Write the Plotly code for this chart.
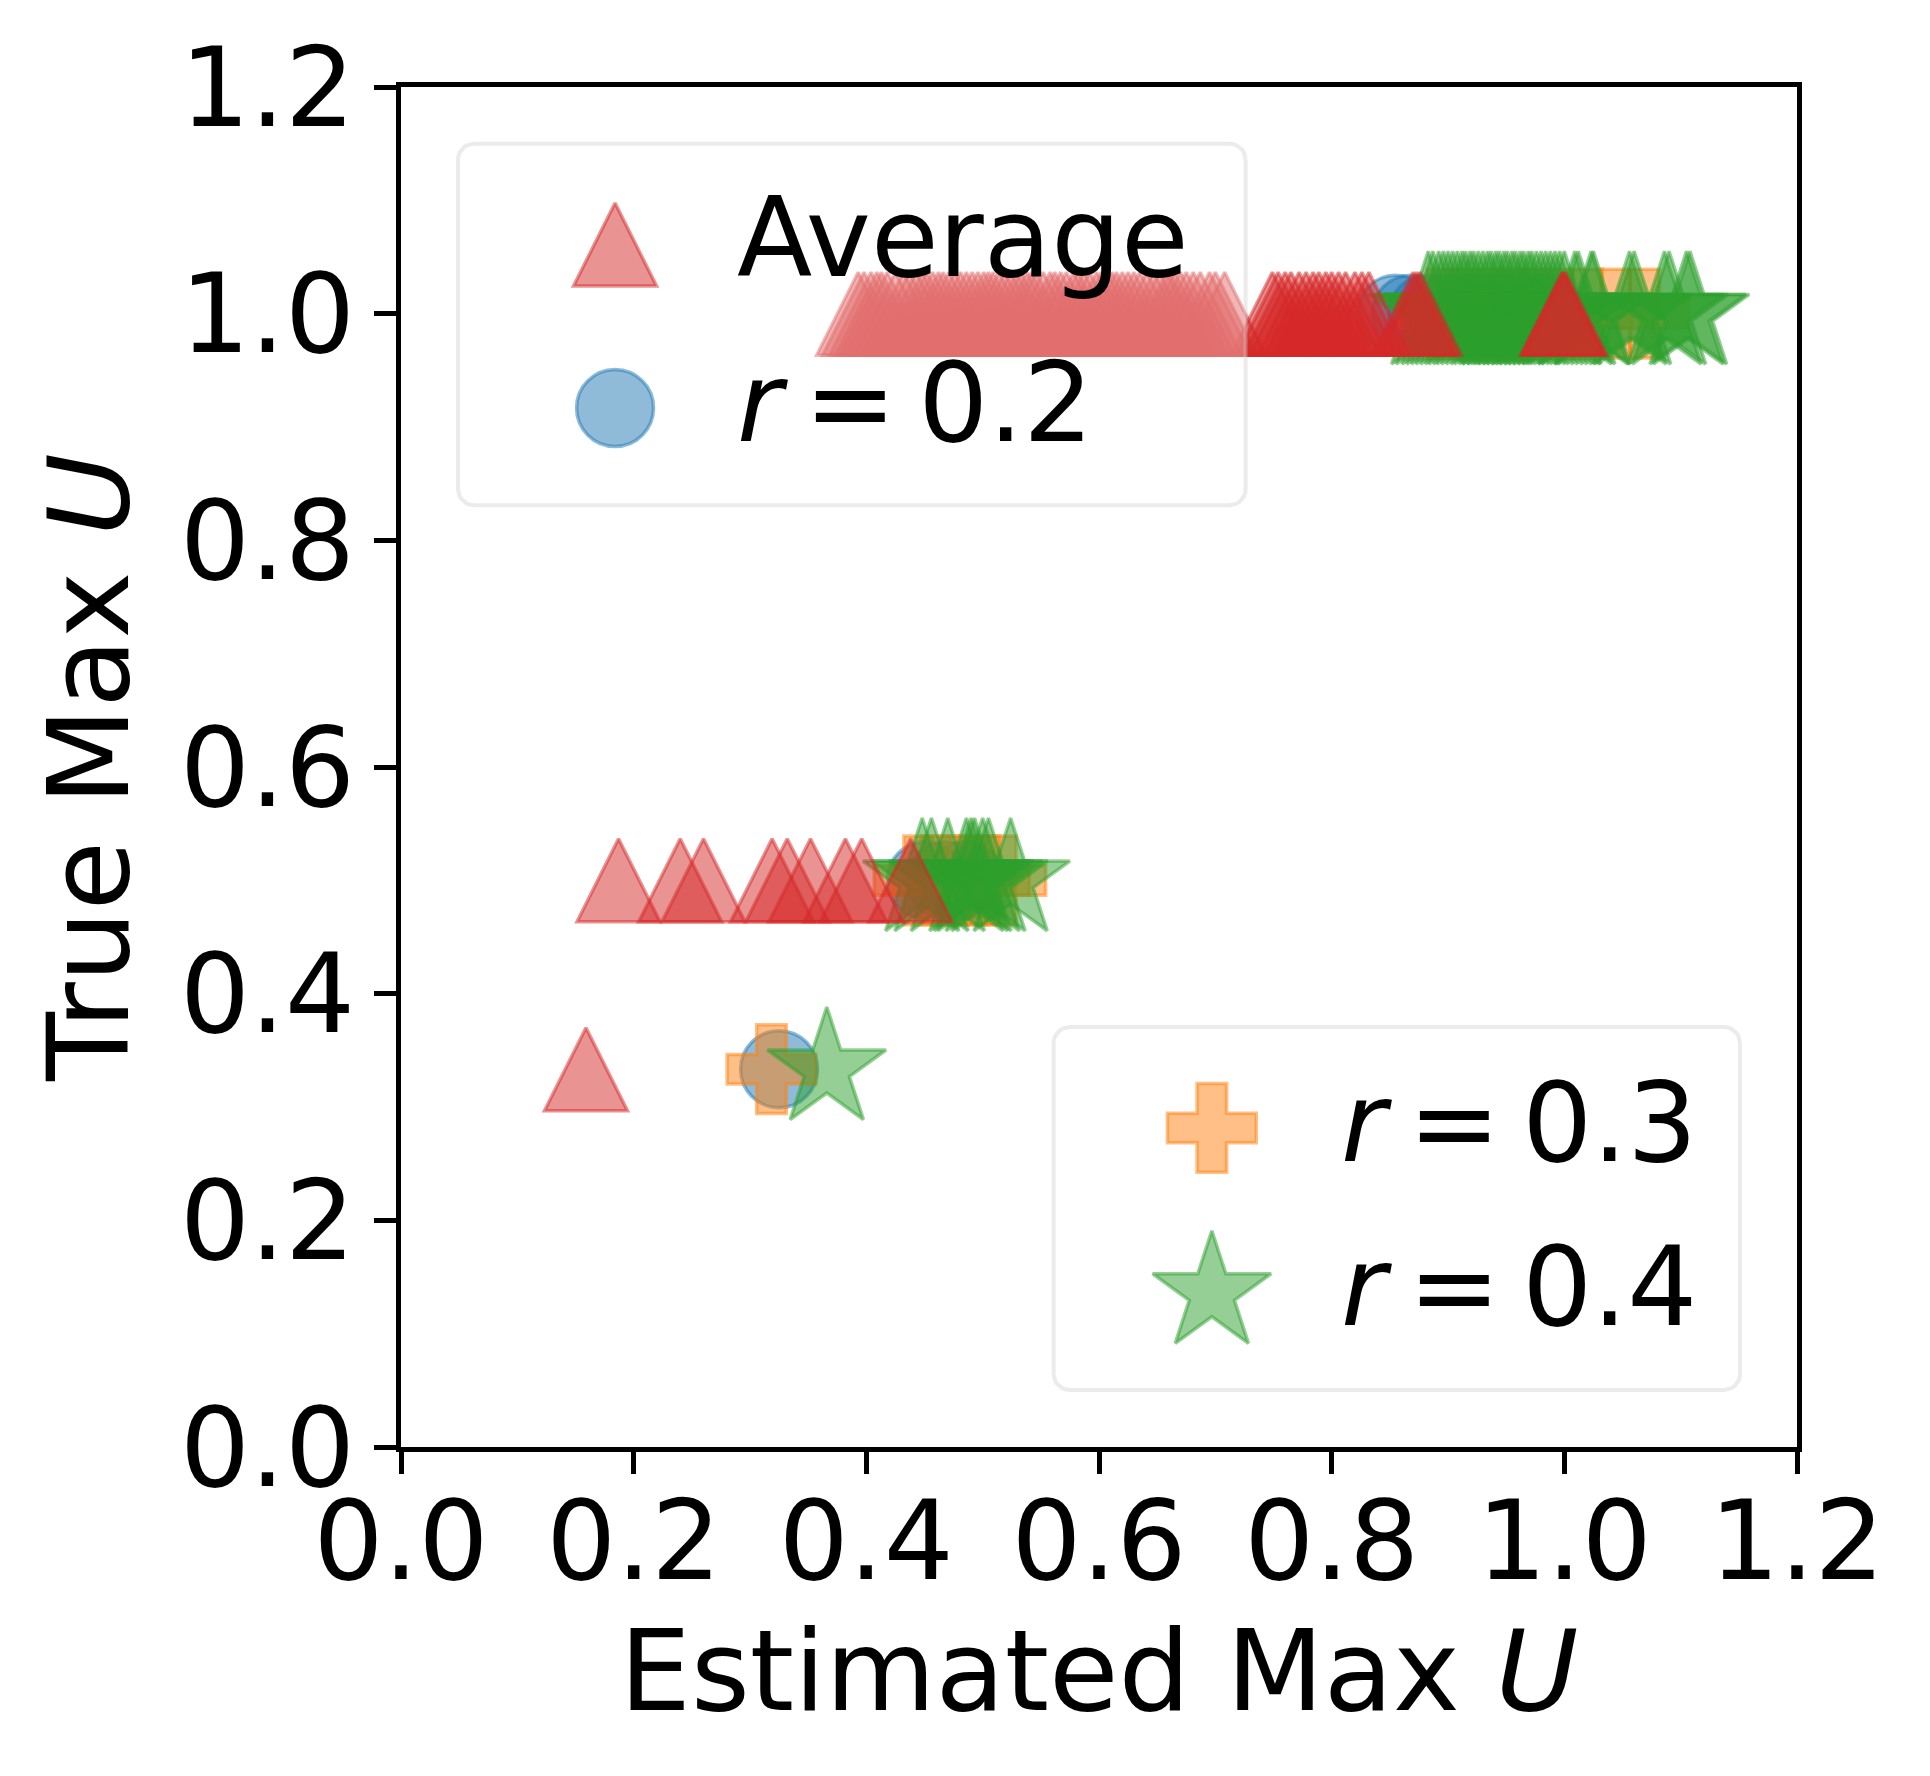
import numpy as np
import plotly.graph_objects as go

# ---- values ----
# three "true max U" levels
y_low, y_mid, y_top = 1 / 3, 0.5, 1.0

avg_low = [0.159]
avg_mid = [0.187, 0.240, 0.260, 0.319, 0.332, 0.352, 0.382, 0.396, 0.438]
avg_top = [0.393, 0.398, 0.404, 0.409, 0.413, 0.418, 0.425, 0.432, 0.437, 0.443,
           0.448, 0.452, 0.457, 0.462, 0.466, 0.471, 0.476, 0.481, 0.486, 0.491,
           0.496, 0.501, 0.505, 0.509, 0.514, 0.519, 0.524, 0.529, 0.533, 0.538,
           0.542, 0.546, 0.552, 0.558, 0.562, 0.567, 0.572, 0.578, 0.582, 0.587,
           0.592, 0.598, 0.602, 0.607, 0.611, 0.615, 0.620, 0.625, 0.630, 0.635,
           0.641, 0.647, 0.652, 0.658, 0.661, 0.665, 0.670, 0.675, 0.681, 0.687,
           0.695, 0.700, 0.708, 0.749, 0.754, 0.760, 0.765, 0.772, 0.778, 0.784,
           0.789, 0.795, 0.800, 0.806, 0.812, 0.820, 0.826, 0.832, 0.870, 0.873,
           0.876, 0.998, 0.999, 1.001]

r02_low = [0.325]
r02_mid = [0.451, 0.468, 0.485]
r02_top = [0.855, 0.868, 0.882, 0.900, 0.920, 0.940, 0.960, 0.980]

r03_low = [0.3185]
r03_mid = [0.445, 0.460, 0.475, 0.490, 0.502, 0.516]
r03_top = [0.895, 0.915, 0.935, 0.955, 0.975, 0.995, 1.020, 1.044, 1.069]

r04_low = [0.366]
r04_mid = [0.448, 0.456, 0.470, 0.486, 0.490, 0.493, 0.500, 0.505, 0.524]
r04_top = [0.883, 0.887, 0.892, 0.896, 0.900, 0.904, 0.908, 0.912, 0.915, 0.919,
           0.922, 0.926, 0.930, 0.934, 0.937, 0.941, 0.944, 0.948, 0.951, 0.955,
           0.958, 0.962, 0.965, 0.969, 0.972, 0.976, 0.980, 0.984, 0.988, 0.992,
           0.996, 1.000, 1.009, 1.012, 1.023, 1.025, 1.056, 1.060, 1.086, 1.090,
           1.105, 1.108]

tick_vals = [0.0, 0.2, 0.4, 0.6, 0.8, 1.0, 1.2]
tick_text = ["0.0", "0.2", "0.4", "0.6", "0.8", "1.0", "1.2"]

SP = "\u2009"  # thin math-style spacing around "="
legend_labels = ["Average", f"<i>r</i>{SP}={SP}0.2", f"<i>r</i>{SP}={SP}0.3",
                 f"<i>r</i>{SP}={SP}0.4"]

FONT = "DejaVu Sans"
BLUE, ORANGE, GREEN, RED = (31, 119, 180), (255, 127, 14), (44, 160, 44), (214, 39, 40)


def rgba(c, a):
    return f"rgba({c[0]},{c[1]},{c[2]},{a})"


def marker(symbol, size, c, **kw):
    return dict(symbol=symbol, size=size, color=rgba(c, 0.5),
                line=dict(color=rgba(c, 0.5), width=3.5), **kw)


TRI = lambda s: marker("arrow-down", s, RED, angle=180, standoff=s / 2)
CIR = lambda s: marker("circle", s, BLUE)
PLS = lambda s: marker("cross", s, ORANGE)
STR = lambda s: marker("star", s, GREEN)


def stack(low, mid, top):
    x = low + mid + top
    y = [y_low] * len(low) + [y_mid] * len(mid) + [y_top] * len(top)
    return x, y


def rounded_box(x0, y0, x1, y1, rx, ry, n=8):
    xs, ys = [], []
    corners = [(x1 - rx, y1 - ry, 0), (x0 + rx, y1 - ry, 90),
               (x0 + rx, y0 + ry, 180), (x1 - rx, y0 + ry, 270)]
    for cx, cy, a0 in corners:
        t = np.radians(np.linspace(a0, a0 + 90, n))
        xs += list(cx + rx * np.cos(t))
        ys += list(cy + ry * np.sin(t))
    return xs + xs[:1], ys + ys[:1]


fig = go.Figure()

for (low, mid, top), mk, name in [((r02_low, r02_mid, r02_top), CIR(77), "r=0.2"),
                                  ((r03_low, r03_mid, r03_top), PLS(74), "r=0.3"),
                                  ((r04_low, r04_mid, r04_top), STR(89), "r=0.4"),
                                  ((avg_low, avg_mid, avg_top), TRI(83), "Average")]:
    x, y = stack(low, mid, top)
    fig.add_trace(go.Scatter(x=x, y=y, mode="markers", marker=mk, name=name,
                             showlegend=False, hoverinfo="skip"))

# legend frames (drawn over the data, like matplotlib)
for box in [(0.049, 0.831, 0.726, 1.150), (0.561, 0.0503, 1.151, 0.3706)]:
    bx, by = rounded_box(*box, 0.0138, 0.0141)
    fig.add_trace(go.Scatter(x=bx, y=by, mode="lines", fill="toself",
                             fillcolor="rgba(255,255,255,0.33)",
                             line=dict(color="rgba(204,204,204,0.4)", width=4),
                             showlegend=False, hoverinfo="skip"))

# legend symbols and labels
leg_sym = [(0.184, 1.061, TRI(83)), (0.184, 0.9168, CIR(77)),
           (0.697, 0.2815, PLS(74)), (0.697, 0.1359, STR(89))]
for lx, ly, mk in leg_sym:
    fig.add_trace(go.Scatter(x=[lx], y=[ly], mode="markers", marker=mk,
                             showlegend=False, hoverinfo="skip"))

leg_txt = [(0.2875, 1.0668), (0.2875, 0.9212), (0.806, 0.2859), (0.806, 0.1412)]
for (tx, ty), label in zip(leg_txt, legend_labels):
    fig.add_annotation(x=tx, y=ty, text=label, showarrow=False, xanchor="left",
                       yanchor="middle", font=dict(family=FONT, size=110, color="black"))

axis = dict(range=[0, 1.2], tickvals=tick_vals, ticktext=tick_text,
            showline=True, mirror=True, linecolor="black", linewidth=5,
            ticks="outside", ticklen=22, tickwidth=5, tickcolor="black",
            showgrid=False, zeroline=False,
            tickfont=dict(family=FONT, size=110, color="black"))

fig.update_layout(
    width=1914, height=1760,
    margin=dict(l=393, r=125, t=79, b=321),
    plot_bgcolor="white", paper_bgcolor="white",
    showlegend=False,
    xaxis=dict(axis, ticklabelstandoff=-27,
               title=dict(text="Estimated Max <i>U</i>", standoff=20,
                          font=dict(family=FONT, size=113, color="black"))),
    yaxis=dict(axis, ticklabelstandoff=-3,
               title=dict(text="True Max <i>U</i>", standoff=15,
                          font=dict(family=FONT, size=113, color="black"))),
)

fig.write_html("out.html")
